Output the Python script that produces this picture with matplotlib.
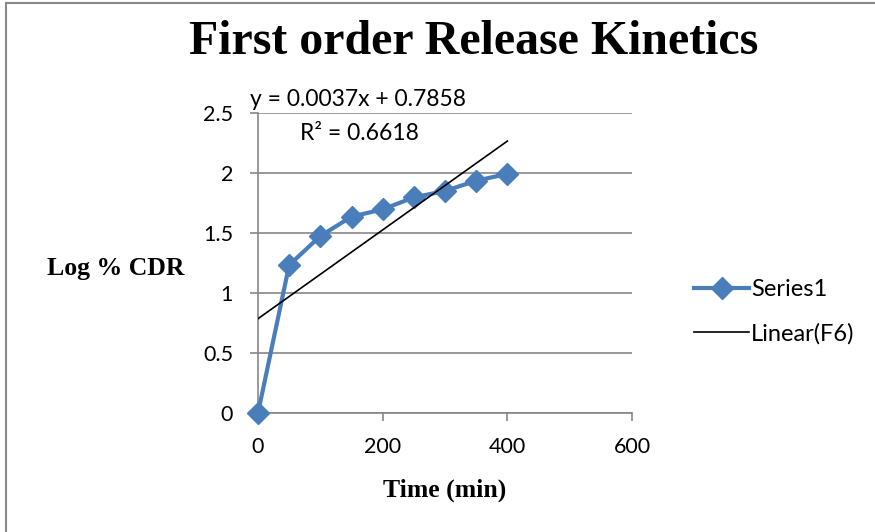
import matplotlib.pyplot as plt
from matplotlib.patches import Rectangle
import numpy as np

time_min = [0, 50, 100, 150, 200, 250, 300, 350, 400]
log_cdr = [0, 1.233, 1.475, 1.636, 1.697, 1.797, 1.85, 1.936, 1.992]
slope = 0.0037
intercept = 0.7858
r2 = 0.6618

x_ticks = [0, 200, 400, 600]
y_ticks = [0, 0.5, 1, 1.5, 2, 2.5]

blue = '#4a7ebb'
grid_col = '#878787'

fig = plt.figure(figsize=(8.75, 5.32), dpi=100)
ax = fig.add_axes([258/875, 1 - 413/532, (632-258)/875, 300/532])

# outer chart border
fig.patches.append(Rectangle((6/875, -0.1), 1.2, 1.1 - 3/532, transform=fig.transFigure,
                             fill=False, edgecolor='#888888', linewidth=1.5))

ax.plot(time_min, log_cdr, color=blue, linewidth=3, marker='D', markersize=11,
        markeredgecolor=blue, label='Series1', zorder=3, clip_on=False)
xs = np.array([time_min[0], time_min[-1]])
ax.plot(xs, slope * xs + intercept, color='black', linewidth=1.2, label='Linear(F6)', zorder=4)

ax.set_xlim(0, 600)
ax.set_ylim(0, 2.5)
ax.set_xticks(x_ticks)
ax.set_yticks(y_ticks)
ax.set_yticklabels(['0', '0.5', '1', '1.5', '2', '2.5'])
ax.grid(axis='y', color=grid_col, linewidth=1.2)
ax.set_axisbelow(True)
for s in ['top', 'right']:
    ax.spines[s].set_visible(False)
for s in ['left', 'bottom']:
    ax.spines[s].set_color(grid_col)
    ax.spines[s].set_linewidth(1.2)
ax.tick_params(axis='both', colors=grid_col, length=6, width=1.2, labelsize=15.5,
               labelcolor='black')
ax.tick_params(axis='x', pad=11)
ax.tick_params(axis='y', pad=12)
for lab in ax.get_xticklabels() + ax.get_yticklabels():
    lab.set_family('Lato')

fig.text(0.541, 0.921, 'First order Release Kinetics', ha='center', va='center',
         fontsize=34.5, fontweight='bold', family='Liberation Serif')
fig.text(116/875, 1 - 268/532, 'Log % CDR', ha='center', va='center',
         fontsize=18.5, fontweight='bold', family='Liberation Serif')
fig.text(445/875, 1 - 490/532, 'Time (min)', ha='center', va='center',
         fontsize=18.5, fontweight='bold', family='Liberation Serif')

fig.text(250/875, 1 - 100/532, 'y = 0.0037x + 0.7858', ha='left', va='center',
         fontsize=16.5, family='Lato')
fig.text(300/875, 1 - 133/532, 'R² = 0.6618', ha='left', va='center',
         fontsize=16.5, family='Lato')

leg = ax.legend(loc='center left', bbox_to_anchor=(1.11, 0.337), frameon=False,
                prop={'family': 'Lato', 'size': 17}, handlelength=2.3,
                handletextpad=0.1, labelspacing=0.95)

fig.savefig('out.png', dpi=100)
